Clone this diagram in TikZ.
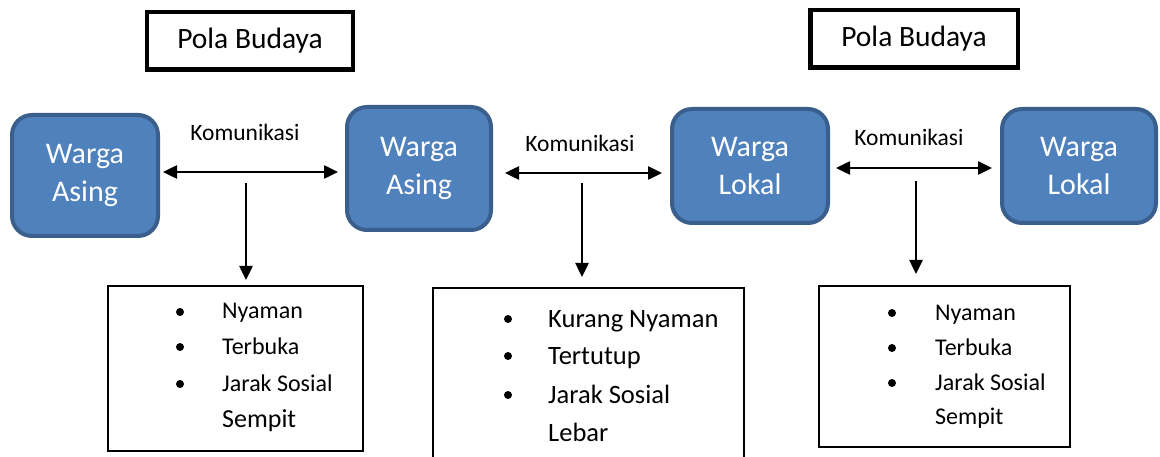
\documentclass[tikz,border=0pt]{standalone}
\usepackage{fontspec}
\setmainfont{Carlito}
\usetikzlibrary{arrows.meta}
\definecolor{wfill}{HTML}{4F81BD}
\definecolor{wdraw}{HTML}{3A5F8C}
\begin{document}
\begin{tikzpicture}[x=1pt,y=-1pt,
  polabox/.style={draw=black, line width=4.5pt, minimum width=206pt, minimum height=57.5pt, inner sep=0pt, font=\fontsize{29.5}{34}\selectfont},
  warga/.style={draw=wdraw, fill=wfill, line width=4pt, rounded corners=20pt, text=white, align=center, inner sep=0pt, font=\fontsize{30}{38}\selectfont},
  komlabel/.style={inner sep=0pt, font=\fontsize{23.5}{28}\selectfont},
  link/.style={line width=2.5pt, {Triangle[length=14pt,width=13pt]}-{Triangle[length=14pt,width=13pt]}},
  downarrow/.style={line width=2.5pt, -{Triangle[length=14pt,width=13pt]}},
  listbox/.style={draw=black, line width=2pt, inner sep=0pt},
  bul/.style={circle, fill=black, inner sep=0pt, minimum size=8pt},
  itemA/.style={anchor=base west, inner sep=0pt, font=\fontsize{24}{28}\selectfont},
  itemB/.style={anchor=base west, inner sep=0pt, font=\fontsize{26.5}{30}\selectfont}]
\useasboundingbox (0,0) rectangle (1160,457);
\clip (0,0) rectangle (1160,457);

% Pola Budaya boxes
\node[polabox] (p1) at (250,41) {Pola Budaya};
\node[polabox, minimum width=207.5pt] (p2) at (914,39) {Pola Budaya};

% Warga boxes
\node[warga, minimum width=146pt, minimum height=121pt] (wa1) at (85,175.5) {Warga\\Asing};
\node[warga, minimum width=144pt, minimum height=123pt] (wa2) at (419,168.5) {Warga\\Asing};
\node[warga, minimum width=156pt, minimum height=114pt] (wl1) at (750,166) {Warga\\Lokal};
\node[warga, minimum width=154pt, minimum height=114pt] (wl2) at (1079,166) {Warga\\Lokal};

% Komunikasi labels
\node[komlabel] (k1) at (245,132) {Komunikasi};
\node[komlabel] (k2) at (580,143) {Komunikasi};
\node[komlabel] (k3) at (909,137) {Komunikasi};

% horizontal links
\draw[link, shorten <=3pt, shorten >=7pt] (wa1.east |- 0,172) -- (wa2.west |- 0,172);
\draw[link, shorten <=12pt, shorten >=8pt] (wa2.east |- 0,173) -- (wl1.west |- 0,173);
\draw[link, shorten <=6pt, shorten >=8pt] (wl1.east |- 0,168) -- (wl2.west |- 0,168);

% list boxes
\node[listbox, minimum width=255pt, minimum height=165pt] (l1) at (235.5,368.5) {};
\node[listbox, minimum width=311pt, minimum height=182pt] (l2) at (588.5,379) {};
\node[listbox, minimum width=251pt, minimum height=161pt] (l3) at (944.5,366.5) {};

% down arrows
\coordinate (c1) at (246,183);
\coordinate (c2) at (582,183);
\coordinate (c3) at (916,181);
\draw[downarrow, shorten >=5pt] (c1) -- (l1.north -| c1);
\draw[downarrow, shorten >=10pt] (c2) -- (l2.north -| c2);
\draw[downarrow, shorten >=11pt] (c3) -- (l3.north -| c3);

% list 1
\node[bul] (b11) at (180,312) {};
\node[bul] (b12) at (180,347) {};
\node[bul] (b13) at (180,384) {};
\node[itemA] (t11) at (222,319) {Nyaman};
\node[itemA] (t12) at (222,354) {Terbuka};
\node[itemA] (t13) at (222,391) {Jarak Sosial};
\node[itemB, font=\fontsize{26}{30}\selectfont] (t14) at (222,427) {Sempit};

% list 2
\node[bul] (b21) at (508,319) {};
\node[bul] (b22) at (508,356) {};
\node[bul] (b23) at (508,395) {};
\node[itemB] (t21) at (548,327) {Kurang Nyaman};
\node[itemB] (t22) at (548,364) {Tertutup};
\node[itemB] (t23) at (548,403) {Jarak Sosial};
\node[itemB] (t24) at (548,441) {Lebar};

% list 3
\node[bul] (b31) at (892,313) {};
\node[bul] (b32) at (892,348) {};
\node[bul] (b33) at (892,383) {};
\node[itemA] (t31) at (935,320) {Nyaman};
\node[itemA] (t32) at (935,355) {Terbuka};
\node[itemA] (t33) at (935,390) {Jarak Sosial};
\node[itemA] (t34) at (935,424) {Sempit};
\end{tikzpicture}
\end{document}
